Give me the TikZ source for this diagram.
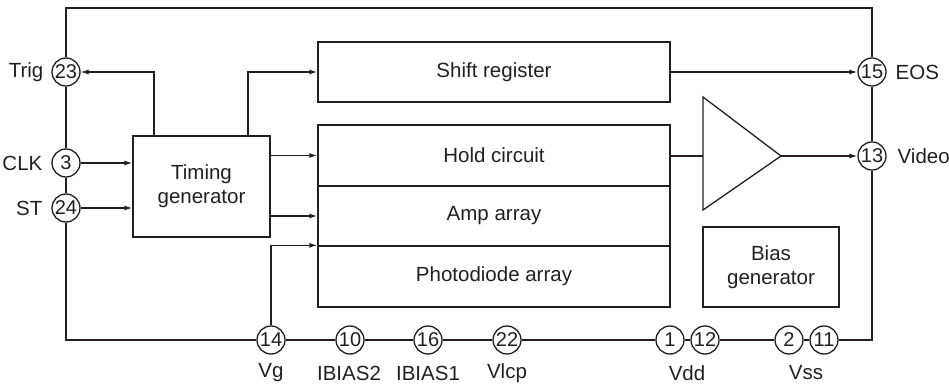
\documentclass[tikz,border=0pt]{standalone}
\usepackage{fontspec}
\setmainfont{Liberation Sans}
\usetikzlibrary{arrows.meta}
\definecolor{ink}{RGB}{35,31,32}
\begin{document}
\begin{tikzpicture}[x=1pt,y=-1pt,line width=1.3pt,draw=ink,text=ink,
  pin/.style={circle,draw,minimum size=28pt,inner sep=0pt,font=\fontsize{20}{20}\selectfont},
  blk/.style={draw,rectangle,inner sep=0pt,align=center,font=\fontsize{20.5}{24}\selectfont},
  lbl/.style={inner sep=0pt,font=\fontsize{20.5}{20.5}\selectfont},
  arr/.style={-{Latex[length=8pt,width=5pt]}}]
\useasboundingbox (0,0) rectangle (949,387);
% pins
\node[pin] (p23) at (66,72) {23};
\node[pin] (p3) at (66,163) {3};
\node[pin] (p24) at (66,208) {24};
\node[pin] (p15) at (872,72) {15};
\node[pin] (p13) at (872,156) {13};
\node[pin] (p14) at (271,340) {14};
\node[pin] (p10) at (350,340) {10};
\node[pin] (p16) at (428,340) {16};
\node[pin] (p22) at (507,340) {22};
\node[pin] (p1) at (670,340) {1};
\node[pin] (p12) at (705,340) {12};
\node[pin] (p2) at (789,340) {2};
\node[pin] (p11) at (824,340) {11};
% labels
\node[lbl,anchor=east] (lTrig) at (44,72) {Trig};
\node[lbl,anchor=east] (lCLK) at (43,163) {CLK};
\node[lbl,anchor=east] (lST) at (43,208) {ST};
\node[lbl,anchor=west] (lEOS) at (895,72) {EOS};
\node[lbl,anchor=west] (lVideo) at (897,156) {Video};
\node[lbl] (lVg) at (271,373) {Vg};
\node[lbl] (lIB2) at (349,373) {IBIAS2};
\node[lbl] (lIB1) at (428,373) {IBIAS1};
\node[lbl] (lVlcp) at (507,373) {Vlcp};
\node[lbl] (lVdd) at (687,373) {Vdd};
\node[lbl] (lVss) at (806,373) {Vss};
% blocks
\node[blk,minimum width=137pt,minimum height=101pt] (timing) at (201.5,186.5) {Timing\\generator};
\node[blk,minimum width=352pt,minimum height=60pt] (shift) at (494,72) {Shift register};
\node[blk,minimum width=352pt,minimum height=61pt] (hold) at (494,155.5) {Hold circuit};
\node[blk,minimum width=352pt,minimum height=60pt] (amp) at (494,216) {Amp array};
\node[blk,minimum width=352pt,minimum height=61pt] (photo) at (494,276.5) {Photodiode array};
\node[blk,minimum width=136pt,minimum height=80pt] (bias) at (771,267) {Bias\\generator};
% amplifier triangle
\coordinate (atop) at (703,97);
\coordinate (abot) at (703,210);
\coordinate (ain) at (703,156);
\coordinate (aout) at (781,156);
\draw[line join=miter] (atop) -- (aout) -- (abot) -- cycle;
% frame corners
\coordinate (tl) at (66,8);
\coordinate (tr) at (872,8);
\coordinate (br) at (872,340);
\coordinate (t1) at (154,136);
\coordinate (t2) at (248,136);
% frame
\draw (p23) -- (tl) -- (tr) -- (p15);
\draw (p23) -- (p3);
\draw (p3) -- (p24);
\draw (p24) |- (p14);
\draw (p14) -- (p10);
\draw (p10) -- (p16);
\draw (p16) -- (p22);
\draw (p22) -- (p1);
\draw (p1) -- (p12);
\draw (p12) -- (p2);
\draw (p2) -- (p11);
\draw (p11) -- (br) -- (p13);
\draw (p13) -- (p15);
% signals
\draw[arr] (t1) |- (p23);
\draw[arr] (t2) |- (shift.west);
\draw[arr] (p3) -- (p3 -| timing.west);
\draw[arr] (p24) -- (p24 -| timing.west);
\draw[arr] (timing.east |- hold) -- (hold.west);
\draw[arr] (timing.east |- amp) -- (amp.west);
\draw[arr] (p14) |- (photo.north west);
\draw[arr] (shift.east) -- (p15);
\draw (hold.east |- ain) -- (ain);
\draw[arr] (aout) -- (p13);
\end{tikzpicture}
\end{document}
